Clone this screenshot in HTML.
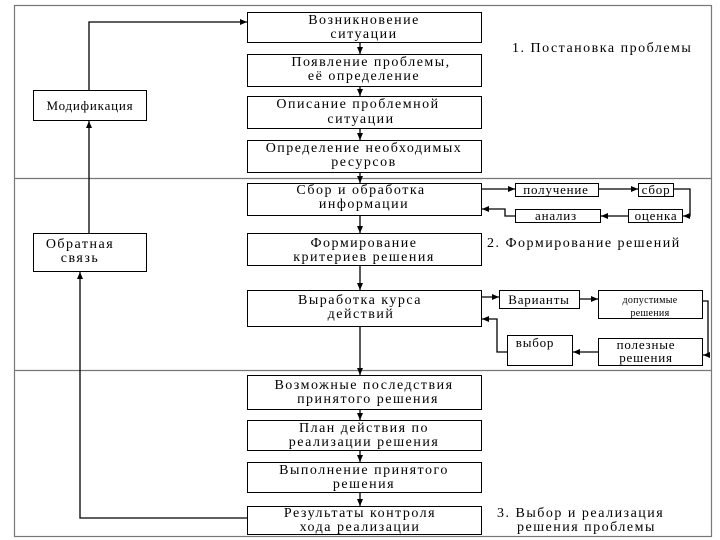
<!DOCTYPE html>
<html><head><meta charset="utf-8"><style>
html,body{margin:0;padding:0;background:#fff;}
svg{display:block;}
text{font-family:"Liberation Serif",serif;font-size:14px;letter-spacing:1.5px;fill:#000;}
.s{font-size:13px;letter-spacing:0.8px;}
</style></head><body>
<svg width="720" height="540" viewBox="0 0 720 540" xmlns="http://www.w3.org/2000/svg">
<defs><marker id="a" markerWidth="8" markerHeight="8" refX="7" refY="4" orient="auto" markerUnits="userSpaceOnUse"><path d="M0,1 L7,4 L0,7 z" fill="#000"/></marker></defs>
<g fill="none" stroke="#777" stroke-width="1.2">
<rect x="14.5" y="5.5" width="697" height="531"/>
<line x1="14" y1="178.5" x2="712" y2="178.5"/>
<line x1="14" y1="370.5" x2="712" y2="370.5"/>
</g>
<g fill="#fff" stroke="#000" stroke-width="1">
<rect x="247.5" y="12.5" width="234" height="30"/>
<rect x="247.5" y="54.5" width="234" height="32"/>
<rect x="247.5" y="96.5" width="234" height="32"/>
<rect x="247.5" y="140.5" width="234" height="32"/>
<rect x="247.5" y="183.5" width="234" height="32"/>
<rect x="247.5" y="233.5" width="234" height="32"/>
<rect x="247.5" y="290.5" width="234" height="36"/>
<rect x="247.5" y="375.5" width="234" height="34"/>
<rect x="247.5" y="420.5" width="234" height="30"/>
<rect x="247.5" y="462.5" width="234" height="30"/>
<rect x="247.5" y="506.5" width="234" height="28"/>
<rect x="33.5" y="90.5" width="113" height="30"/>
<rect x="33.5" y="233.5" width="113" height="38"/>
<rect x="515.5" y="183.5" width="83" height="13"/>
<rect x="638.5" y="183.5" width="35" height="13"/>
<rect x="628.5" y="209.5" width="54" height="13"/>
<rect x="515.5" y="209.5" width="85" height="13"/>
<rect x="499.5" y="290.5" width="80" height="18"/>
<rect x="598.5" y="290.5" width="104" height="28"/>
<rect x="507.5" y="335.5" width="65" height="30"/>
<rect x="598.5" y="338.5" width="104" height="27"/>
</g>
<g fill="none" stroke="#000" stroke-width="1.3">
<line x1="360" y1="42" x2="360" y2="54" marker-end="url(#a)"/>
<line x1="360" y1="86" x2="360" y2="96" marker-end="url(#a)"/>
<line x1="360" y1="128" x2="360" y2="140" marker-end="url(#a)"/>
<line x1="360" y1="172" x2="360" y2="183" marker-end="url(#a)"/>
<line x1="360" y1="215" x2="360" y2="233" marker-end="url(#a)"/>
<line x1="360" y1="265" x2="360" y2="290" marker-end="url(#a)"/>
<line x1="360" y1="326" x2="360" y2="375" marker-end="url(#a)"/>
<line x1="360" y1="409" x2="360" y2="420" marker-end="url(#a)"/>
<line x1="360" y1="450" x2="360" y2="462" marker-end="url(#a)"/>
<line x1="360" y1="492" x2="360" y2="506" marker-end="url(#a)"/>
<polyline points="89,90 89,22 247,22" marker-end="url(#a)"/>
<line x1="89" y1="233" x2="89" y2="121" marker-end="url(#a)"/>
<polyline points="247,518 80,518 80,272" marker-end="url(#a)"/>
<line x1="481" y1="189" x2="515" y2="189" marker-end="url(#a)"/>
<line x1="598" y1="189" x2="638" y2="189" marker-end="url(#a)"/>
<polyline points="673,189 690,189 690,216 683,216" marker-end="url(#a)"/>
<line x1="628" y1="216" x2="601" y2="216" marker-end="url(#a)"/>
<polyline points="515,216 505,216 505,209 482,209" marker-end="url(#a)"/>
<line x1="481" y1="297" x2="499" y2="297" marker-end="url(#a)"/>
<line x1="579" y1="299" x2="598" y2="299" marker-end="url(#a)"/>
<polyline points="702,301 708,301 708,355 703,355" marker-end="url(#a)"/>
<line x1="598" y1="352" x2="573" y2="352" marker-end="url(#a)"/>
<polyline points="507,352 497,352 497,319 482,319" marker-end="url(#a)"/>
</g>
<g text-anchor="middle">
<text x="364" y="24">Возникновение</text><text x="364" y="38">ситуации</text>
<text x="371" y="66">Появление проблемы,</text><text x="364" y="80">её определение</text>
<text x="358" y="108">Описание проблемной</text><text x="361" y="123">ситуации</text>
<text x="364" y="152">Определение необходимых</text><text x="364" y="166">ресурсов</text>
<text x="361" y="194">Сбор и обработка</text><text x="364" y="208">информации</text>
<text x="364" y="247">Формирование</text><text x="364" y="261">критериев решения</text>
<text x="360" y="304">Выработка курса</text><text x="361" y="318">действий</text>
<text x="364" y="389">Возможные последствия</text><text x="368" y="403">принятого решения</text>
<text x="364" y="432">План действия по</text><text x="364" y="446">реализации решения</text>
<text x="364" y="474">Выполнение принятого</text><text x="364" y="488">решения</text>
<text x="360" y="517">Результаты контроля</text><text x="360" y="531">хода реализации</text>
<text x="90" y="110" class="s">Модификация</text>
<text x="80" y="248">Обратная</text><text x="80" y="262">связь</text>
<text x="556" y="194" class="s">получение</text>
<text x="656" y="194" class="s">сбор</text>
<text x="656" y="220" class="s">оценка</text>
<text x="556" y="220" class="s">анализ</text>
<text x="539" y="304" class="s">Варианты</text>
<text x="650" y="303" style="font-size:10px;letter-spacing:0.3px">допустимые</text>
<text x="650" y="316" style="font-size:10px;letter-spacing:0.3px">решения</text>
<text x="535" y="347" class="s">выбор</text>
<text x="646" y="349" class="s">полезные</text><text x="646" y="362" class="s">решения</text>
</g>
<text x="512" y="52">1. Постановка проблемы</text>
<text x="487" y="247">2. Формирование решений</text>
<text x="497" y="517">3. Выбор и реализация</text>
<text x="517" y="531">решения проблемы</text>
</svg>
</body></html>
